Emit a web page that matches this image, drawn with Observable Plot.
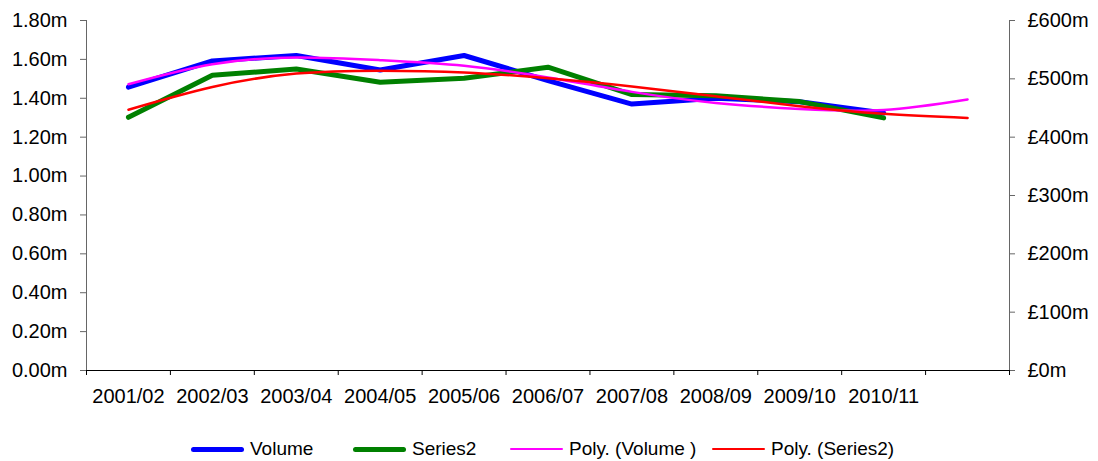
<!DOCTYPE html>
<html><head><meta charset="utf-8">
<script src="https://cdn.jsdelivr.net/npm/d3@7"></script>
<script src="https://cdn.jsdelivr.net/npm/@observablehq/plot@0.6"></script>
<style>
body{margin:0;background:#fff;font-family:"Liberation Sans",Arial,sans-serif;}
#legend{position:relative;height:36px;width:1098px;font-size:19px;color:#000;}
.item{position:absolute;top:12px;height:24px;display:flex;align-items:center;white-space:pre;}
.sw{width:53px;margin-right:6px;border-radius:3px;}
</style></head>
<body><div id="chart"></div><div id="legend"></div>
<script>
const years = ["2001/02","2002/03","2003/04","2004/05","2005/06","2006/07","2007/08","2008/09","2009/10","2010/11"];
const volume = [1.457,1.592,1.620,1.545,1.620,1.491,1.370,1.400,1.382,1.324];           // m
const series2 = [434,506,517,494,501,520,473,471,461,433];                               // £m
const polyVolume = [1.472,1.575,1.610,1.596,1.567,1.507,1.433,1.376,1.345,1.340,1.394]; // m (trend, +1 period)
const polySeries2 = [447,486,509,514,511,501,487,470,453,440,433];                       // £m (trend, +1 period)
const leftTicks = [0,0.2,0.4,0.6,0.8,1.0,1.2,1.4,1.6,1.8];
const rightTicks = [0,100,200,300,400,500,600];
const legendItems = [
  {label:"Volume", color:"#0000ff", width:5, left:191},
  {label:"Series2", color:"#008000", width:5, left:353},
  {label:"Poly. (Volume )", color:"#ff00ff", width:2.5, left:510},
  {label:"Poly. (Series2)", color:"#ff0000", width:2.5, left:712}
];

const nBands = years.length + 1;
const ratio = 1.8 / 600;
const pos = (d, i) => i + 0.5;

const chart = Plot.plot({
  width: 1098,
  height: 425,
  marginLeft: 86,
  marginRight: 89,
  marginTop: 20,
  marginBottom: 55,
  style: {fontFamily: "Liberation Sans, Arial, sans-serif", fontSize: "20px", color: "#000", background: "#fff"},
  x: {type: "linear", domain: [0, nBands]},
  y: {domain: [0, 1.8]},
  marks: [
    Plot.axisY(leftTicks, {anchor: "left", tickSize: 6, tickPadding: 13, stroke: "#666", fill: "#000", fontSize: 20, tickFormat: d => d.toFixed(2) + "m", label: null}),
    Plot.axisY(rightTicks.map(d => d * ratio), {anchor: "right", tickSize: 5, tickPadding: 13, stroke: "#666", fill: "#000", fontSize: 20, tickFormat: d => "£" + Math.round(d / ratio) + "m", label: null}),
    Plot.axisX(d3.range(0, nBands + 1), {anchor: "bottom", tickSize: 5, stroke: "#000", tickFormat: () => "", label: null}),
    Plot.axisX(years.map(pos), {anchor: "bottom", tickSize: 0, tickPadding: 18, fill: "#000", fontSize: 20, tickFormat: d => years[Math.floor(d)], label: null}),
    Plot.ruleX([0, nBands], {stroke: "#666"}),
    Plot.ruleY([0], {stroke: "#000"}),
    Plot.line(volume, {x: pos, y: d => d, stroke: "#0000ff", strokeWidth: 5, strokeLinecap: "round"}),
    Plot.line(series2, {x: pos, y: d => d * ratio, stroke: "#008000", strokeWidth: 5, strokeLinecap: "round"}),
    Plot.line(polyVolume, {x: pos, y: d => d, stroke: "#ff00ff", strokeWidth: 2.5, curve: "natural"}),
    Plot.line(polySeries2, {x: pos, y: d => d * ratio, stroke: "#ff0000", strokeWidth: 2.5, curve: "natural"})
  ]
});
document.getElementById("chart").appendChild(chart);

const legend = document.getElementById("legend");
for (const it of legendItems) {
  const div = document.createElement("div");
  div.className = "item";
  div.style.left = it.left + "px";
  const sw = document.createElement("span");
  sw.className = "sw";
  sw.style.height = it.width + "px";
  sw.style.background = it.color;
  div.appendChild(sw);
  div.appendChild(document.createTextNode(it.label));
  legend.appendChild(div);
}
</script>
</body></html>
